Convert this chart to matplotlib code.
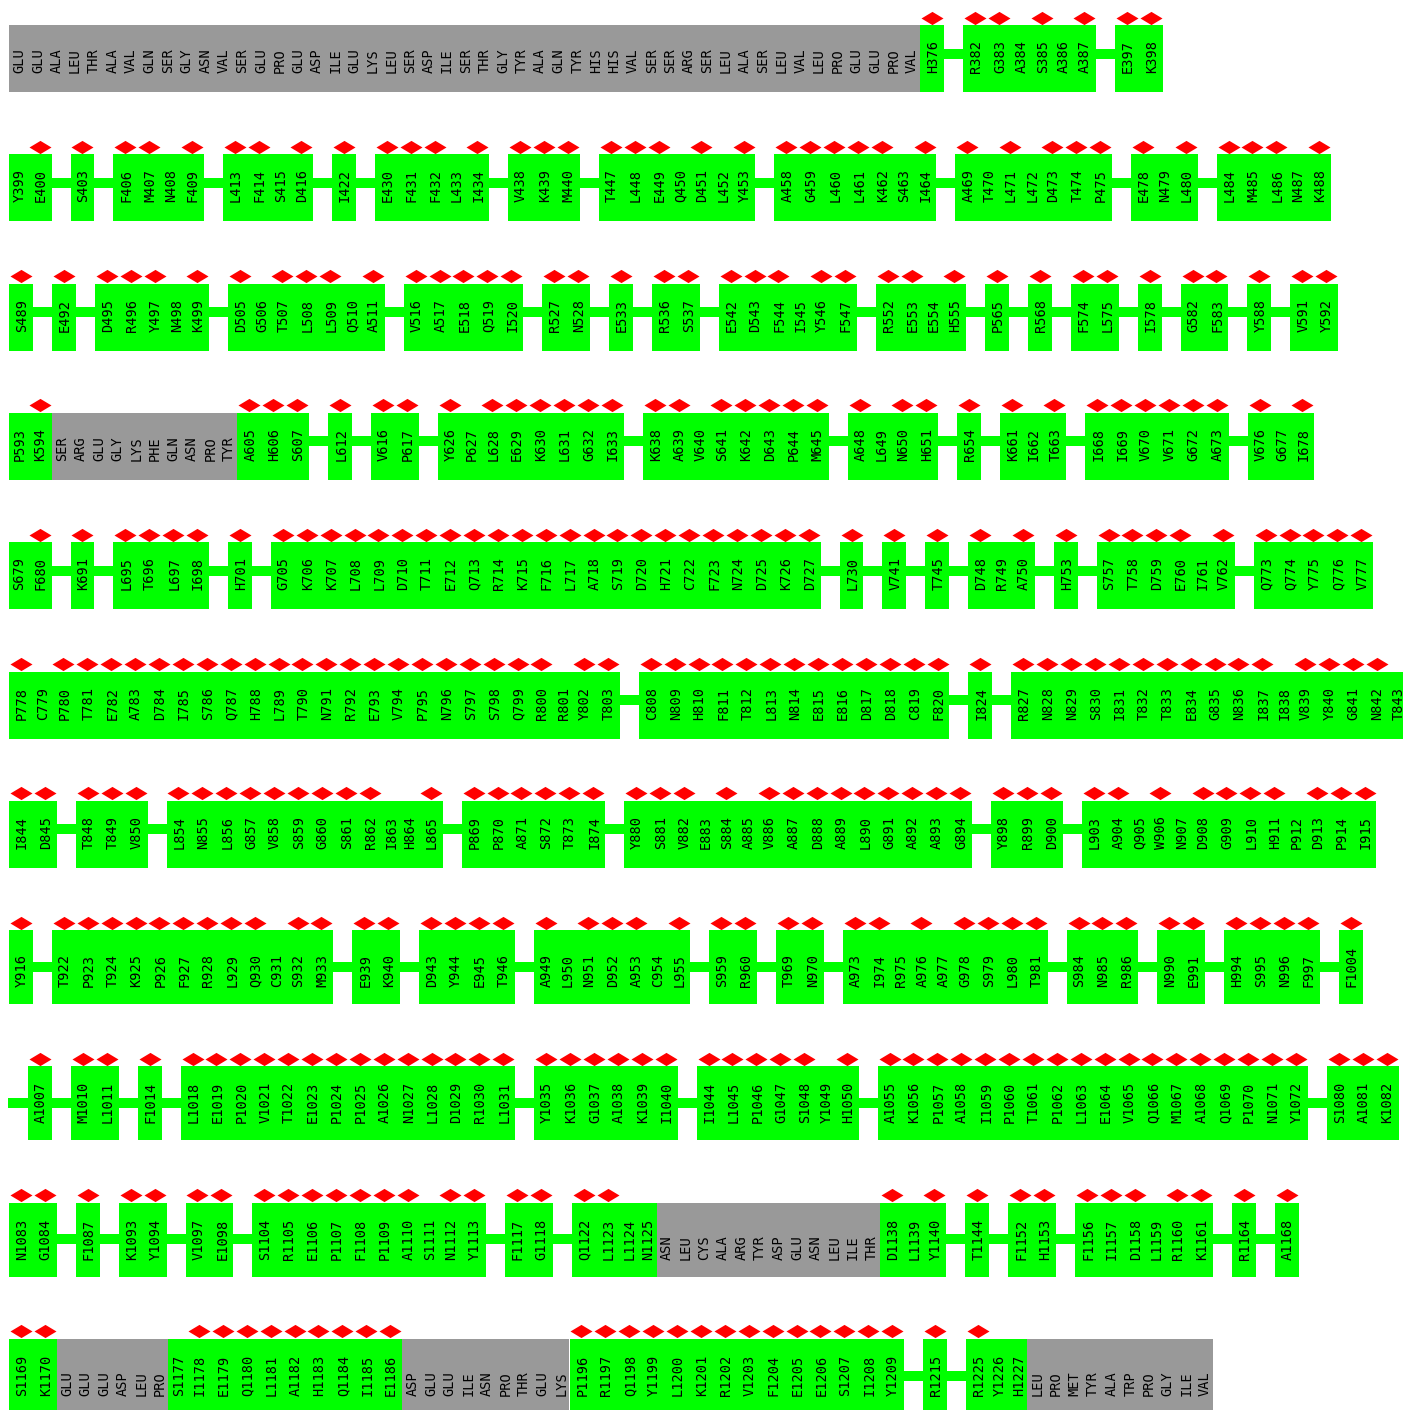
import matplotlib
matplotlib.use("Agg")
import matplotlib.pyplot as plt

# one string per printed row; "*" = residue flagged with a diamond,
# "|" = gap between segments, plain three-letter names = unresolved (grey)
row01 = ("GLU GLU ALA LEU THR ALA VAL GLN SER GLY ASN VAL SER GLU PRO GLU ASP ILE GLU LYS "
         "LEU SER ASP ILE SER THR GLY TYR ALA GLN TYR HIS HIS VAL SER SER ARG SER LEU ALA "
         "SER LEU VAL LEU PRO GLU GLU PRO VAL H376* | R382* G383* A384 S385* A386 A387* | E397* K398*")
row02 = ("Y399 E400* | S403* | F406* M407* N408 F409* | L413* F414* S415 D416* | I422* | "
         "E430* F431* F432* L433 I434* | V438* K439* M440* | T447* L448* E449* Q450 D451* L452 Y453* | "
         "A458* G459* L460* L461* K462* S463 I464* | A469* T470 L471* L472 D473* T474* P475* | "
         "E478* N479 L480* | L484* M485* L486* N487 K488*")
row03 = ("S489* | E492* | D495* R496* Y497* N498 K499* | D505* G506 T507* L508* L509* Q510 A511* | "
         "V516* A517* E518* Q519* I520* | R527* N528* | E533* | R536* S537* | "
         "E542* D543* F544* I545 Y546* F547* | R552* E553* E554 H555* | P565* | R568* | "
         "F574* L575* | I578* | G582* F583* | Y588* | V591* Y592*")
row04 = ("P593 K594* SER ARG GLU GLY LYS PHE GLN ASN PRO TYR A605* H606* S607* | L612* | V616* P617* | "
         "Y626* P627 L628* E629* K630* L631* G632* I633* | K638* A639* V640 S641* K642* D643* P644* M645* | "
         "A648* L649 N650* H651* | R654* | K661* I662 T663* | I668* I669* V670* V671* G672* A673* | "
         "V676* G677 I678*")
row05 = ("S679 F680* | K691* | L695* T696* L697* I698* | H701* | "
         "G705* K706* K707* L708* L709* D710* T711* E712* Q713* R714* K715* F716* L717* A718* S719* "
         "D720* H721* C722* F723* N724* D725* K726* D727* | L730* | V741* | T745* | D748* R749 A750* | "
         "H753* | S757* T758* D759* E760* I761 V762* | Q773* Q774* Y775* Q776* V777*")
row06 = ("P778* C779 P780* T781* E782* A783* D784* I785* S786* Q787* H788* L789* T790* N791* R792* "
         "E793* V794* P795* N796* S797* S798* Q799* R800* R801 Y802* T803* | "
         "C808* N809* H810* F811* T812* L813* N814* E815* E816* D817* D818* C819* F820* | I824* | "
         "R827* N828* N829* S830* I831* T832* T833* E834* G835* N836* I837* I838 V839* Y840* G841* N842* T843")
row07 = ("I844* D845* | T848* T849* V850* | L854* N855* L856* G857* V858* S859* G860* S861* R862* I863 H864 L865* | "
         "P869* P870* A871* S872* T873* I874* | Y880* S881* V882* E883 S884* A885 V886* A887* D888* A889* "
         "L890* G891* A892* A893* G894* | Y898* R899* D900* | "
         "L903* A904* Q905 W906* N907 D908* G909* L910* H911* P912 D913* P914* I915*")
row08 = ("Y916* | T922* P923* T924* K925* P926* F927* R928* L929* Q930* C931 S932* M933* | E939* K940* | "
         "D943* Y944* E945* T946* | A949* L950 N951* D952* A953* C954 L955* | S959* R960* | T969* N970* | "
         "A973* I974* R975 A976* A977 G978* S979* L980* T981* | S984* N985* R986* | N990* E991* | "
         "H994* S995* N996* F997* | F1004*")
row09 = ("| A1007* | M1010* L1011* | F1014* | L1018* E1019* P1020* V1021* T1022* E1023* P1024* P1025* "
         "A1026* N1027* L1028* D1029* R1030* L1031* | Y1035* K1036* G1037* A1038* K1039* I1040* | "
         "I1044* L1045* P1046* G1047* S1048* Y1049 H1050* | A1055* K1056* P1057* A1058* I1059* P1060* "
         "T1061* P1062* L1063* E1064* V1065* Q1066* M1067* A1068* Q1069* P1070* N1071* Y1072* | "
         "S1080* A1081* K1082*")
row10 = ("N1083* G1084* | F1087* | K1093* Y1094* | V1097* E1098* | S1104* R1105* E1106* P1107* F1108* "
         "P1109* A1110* S1111 N1112* Y1113* | F1117* G1118* | Q1122* L1123* L1124 N1125 "
         "ASN LEU CYS ALA ARG TYR ASP GLU ASN LEU ILE THR D1138* L1139 Y1140* | T1144* | F1152* H1153* | "
         "F1156* I1157* D1158* L1159 R1160* K1161* | R1164* | A1168*")
row11 = ("S1169* K1170* GLU GLU GLU ASP LEU PRO S1177 I1178* E1179* Q1180* L1181* A1182* H1183* Q1184* "
         "I1185* E1186* ASP GLU GLU ILE ASN PRO THR GLU LYS P1196* R1197* Q1198* Y1199* L1200* K1201* "
         "R1202* V1203* F1204* E1205* E1206* S1207* I1208* Y1209* | R1215* | "
         "R1225* Y1226 H1227 LEU PRO MET TYR ALA TRP PRO GLY ILE VAL")

rows = [row01, row02, row03, row04, row05, row06, row07, row08, row09, row10, row11]

GREEN = "#00ff00"
GREY = "#999999"
RED = "#ff0000"

HIT_W = 23.9     # residue column with a diamond
PLAIN_W = 18.6   # residue column without one
GAP_W = 19.0
X0 = 9.0
TOP0 = 25.0
ROW_SPACE = 62.3

fig = plt.figure(figsize=(14.03, 14.10), dpi=100)
ax = fig.add_axes([0, 0, 1, 1])
ax.set_xlim(0, 1403)
ax.set_ylim(1410, 0)
ax.axis("off")

diamond = [(-1, 0), (0, 0.6), (1, 0), (0, -0.6), (-1, 0)]

top = TOP0
for row in rows:
    tokens = row.split()
    maxlen = max(len(t.rstrip("*")) for t in tokens if t != "|")
    extra = maxlen - 4
    height = 67 + 7 * extra
    line_y = top + 28.5 + 8.2 * extra
    text_y = top + 48 + 9 * extra

    x = X0
    runs = []       # (kind, start, width)
    gaps = []
    hx = []
    for tok in tokens:
        if tok == "|":
            gaps.append((x - 1, GAP_W + 2))
            x += GAP_W
            continue
        hit = tok.endswith("*")
        name = tok.rstrip("*")
        kind = "grey" if name.isalpha() else "green"
        w = HIT_W if hit else PLAIN_W
        if runs and runs[-1][0] == kind and abs(runs[-1][1] + runs[-1][2] - x) < 1e-6:
            runs[-1] = (kind, runs[-1][1], runs[-1][2] + w)
        else:
            runs.append((kind, x, w))
        ax.text(x + w / 2 + 1, text_y, name, rotation=90, ha="center", va="bottom",
                family="DejaVu Sans Mono", fontsize=9.8, color="black", zorder=4)
        if hit:
            hx.append(x + w / 2)
        x += w

    if gaps:
        ax.broken_barh(gaps, (line_y - 5, 10), facecolors=GREEN, zorder=1)
    for kind in ("green", "grey"):
        segs = [(s, w) for k, s, w in runs if k == kind]
        if segs:
            ax.broken_barh(segs, (top, height), facecolors=GREEN if kind == "green" else GREY,
                           zorder=2)
    if hx:
        ax.scatter(hx, [top - 7.5] * len(hx), marker=diamond, s=251, c=RED,
                   linewidths=0, zorder=3)

    top += height + ROW_SPACE

fig.savefig("out.png", dpi=100)
